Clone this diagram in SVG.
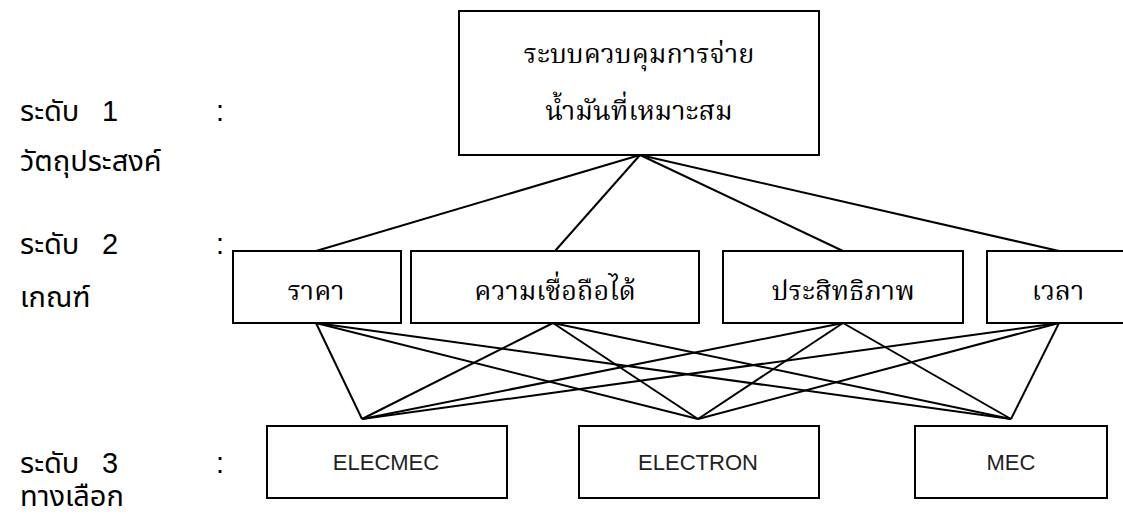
<svg xmlns="http://www.w3.org/2000/svg" width="1123" height="515" viewBox="0 0 1123 515">
  <style>
    .box { fill: #ffffff; stroke: #000000; stroke-width: 2; }
    .ln { stroke: #000000; stroke-width: 2; fill: none; }
    .th { font-family: "Liberation Serif", "Noto Serif Thai", "Noto Sans Thai", serif; font-size: 27px; fill: #000; text-anchor: middle; }
    .lbl { font-family: "Liberation Sans", "Noto Sans Thai", sans-serif; font-size: 29px; fill: #000; }
    .en { font-family: "Liberation Sans", Arial, sans-serif; font-size: 22px; fill: #222; text-anchor: middle; }
  </style>
  <rect width="1123" height="515" fill="#ffffff"/>
  <g id="levels">
    <text class="lbl" x="20" y="121">ระดับ</text>
    <text class="lbl" x="102" y="121">1</text>
    <text class="lbl" x="216" y="121">:</text>
    <text class="lbl" x="20" y="171">วัตถุประสงค์</text>
    <text class="lbl" x="20" y="254">ระดับ</text>
    <text class="lbl" x="102" y="254">2</text>
    <text class="lbl" x="216" y="254">:</text>
    <text class="lbl" x="20" y="307">เกณฑ์</text>
    <text class="lbl" x="20" y="473">ระดับ</text>
    <text class="lbl" x="102" y="473">3</text>
    <text class="lbl" x="216" y="473">:</text>
    <text class="lbl" x="20" y="506">ทางเลือก</text>
  </g>
  <g id="connectors">
    <line class="ln" x1="640" y1="155" x2="316" y2="251"/>
    <line class="ln" x1="640" y1="155" x2="555" y2="251"/>
    <line class="ln" x1="640" y1="155" x2="843" y2="251"/>
    <line class="ln" x1="640" y1="155" x2="1059" y2="251"/>
    <line class="ln" x1="316" y1="323" x2="362" y2="419"/>
    <line class="ln" x1="316" y1="323" x2="698" y2="419"/>
    <line class="ln" x1="316" y1="323" x2="1011" y2="419"/>
    <line class="ln" x1="553" y1="323" x2="362" y2="419"/>
    <line class="ln" x1="553" y1="323" x2="698" y2="419"/>
    <line class="ln" x1="553" y1="323" x2="1011" y2="419"/>
    <line class="ln" x1="843" y1="323" x2="362" y2="419"/>
    <line class="ln" x1="843" y1="323" x2="698" y2="419"/>
    <line class="ln" x1="843" y1="323" x2="1011" y2="419"/>
    <line class="ln" x1="1059" y1="323" x2="362" y2="419"/>
    <line class="ln" x1="1059" y1="323" x2="698" y2="419"/>
    <line class="ln" x1="1059" y1="323" x2="1011" y2="419"/>
  </g>
  <g id="goal">
    <rect class="box" x="459" y="11" width="360" height="144"/>
    <text class="th" x="639" y="63">ระบบควบคุมการจ่าย</text>
    <text class="th" x="639" y="120">น้ำมันที่เหมาะสม</text>
  </g>
  <g id="c-price">
    <rect class="box" x="233" y="251" width="168" height="72"/>
    <text class="th" x="316" y="300">ราคา</text>
  </g>
  <g id="c-reliability">
    <rect class="box" x="411" y="251" width="288" height="72"/>
    <text class="th" x="555" y="300">ความเชื่อถือได้</text>
  </g>
  <g id="c-efficiency">
    <rect class="box" x="723" y="251" width="240" height="72"/>
    <text class="th" x="843" y="300">ประสิทธิภาพ</text>
  </g>
  <g id="c-time">
    <rect class="box" x="987" y="251" width="140" height="72"/>
    <text class="th" x="1058" y="300">เวลา</text>
  </g>
  <g id="a-elecmec">
    <rect class="box" x="267" y="426" width="240" height="72"/>
    <text class="en" x="386" y="470">ELECMEC</text>
  </g>
  <g id="a-electron">
    <rect class="box" x="579" y="426" width="240" height="72"/>
    <text class="en" x="698" y="470">ELECTRON</text>
  </g>
  <g id="a-mec">
    <rect class="box" x="915" y="426" width="192" height="72"/>
    <text class="en" x="1011" y="470">MEC</text>
  </g>
</svg>
